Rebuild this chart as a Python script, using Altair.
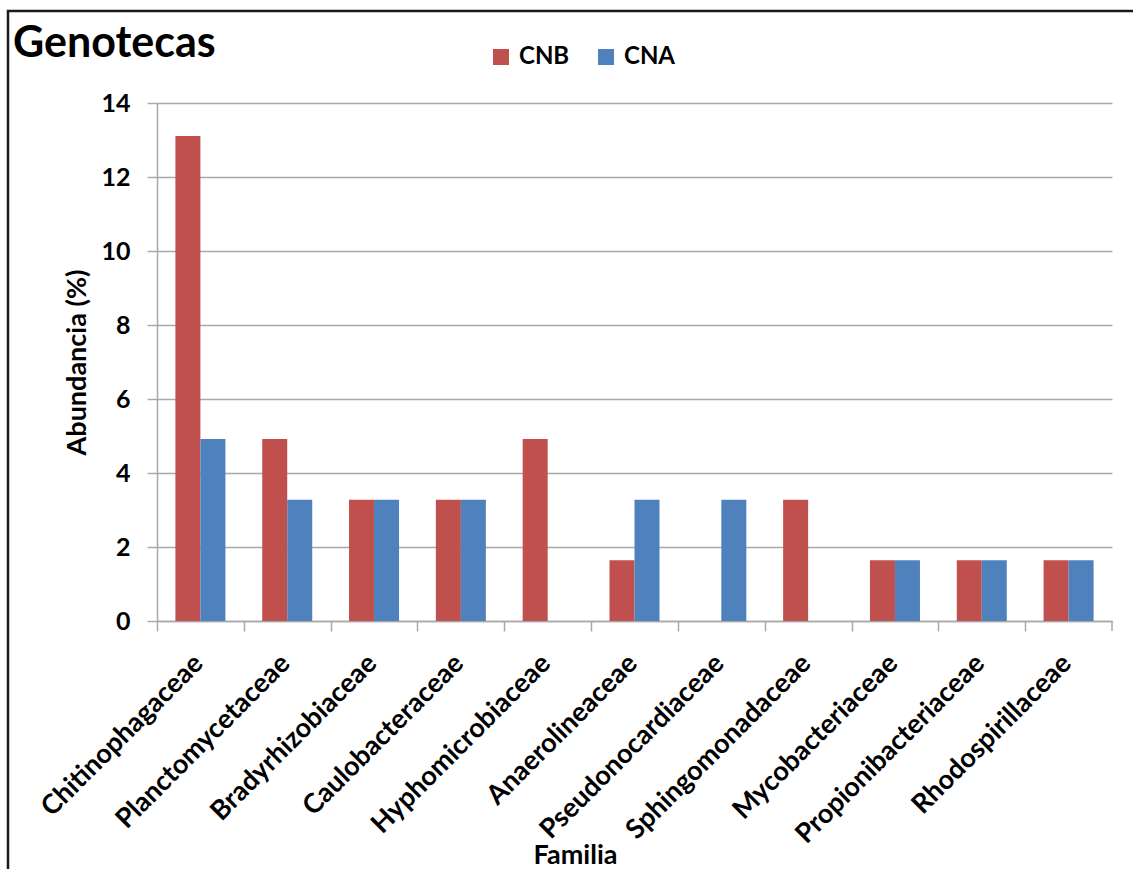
import altair as alt
import pandas as pd

# Families (x categories) and abundance (%) for each library
familias = [
    "Chitinophagaceae", "Planctomycetaceae", "Bradyrhizobiaceae", "Caulobacteraceae",
    "Hyphomicrobiaceae", "Anaerolineaceae", "Pseudonocardiaceae", "Sphingomonadaceae",
    "Mycobacteriaceae", "Propionibacteriaceae", "Rhodospirillaceae",
]
cnb = [13.11, 4.92, 3.28, 3.28, 4.92, 1.64, 0.0, 3.28, 1.64, 1.64, 1.64]
cna = [4.92, 3.28, 3.28, 3.28, 0.0, 3.28, 3.28, 0.0, 1.64, 1.64, 1.64]
series = ["CNB", "CNA"]
colors = ["#C0504D", "#4F81BD"]
y_ticks = [0, 2, 4, 6, 8, 10, 12, 14]

rows = []
for f, a, b in zip(familias, cnb, cna):
    rows.append({"Familia": f, "Serie": "CNB", "Abundancia": a})
    rows.append({"Familia": f, "Serie": "CNA", "Abundancia": b})
df = pd.DataFrame(rows)

FONT = "Lato"
GRAY = "#A9A9A9"
W, H = 955, 518
STEP = W / len(familias)

bars = alt.Chart(df).mark_bar().encode(
    x=alt.X(
        "Familia:N",
        sort=familias,
        scale=alt.Scale(paddingInner=0.424, paddingOuter=0.212),
        axis=alt.Axis(
            title="Familia",
            labelAngle=-45,
            labelAlign="right",
            labelBaseline="middle",
            tickOffset=-STEP / 2,
            labelOffset=STEP / 2 - 2,
            labelPadding=28,
            labelOverlap=False,
            labelLimit=0,
            labelFontSize=27,
            tickSize=10,
            grid=False,
            titleX=418,
            titleY=242,
            titleAlign="center",
            titleBaseline="alphabetic",
            titleFontSize=27,
        ),
    ),
    xOffset=alt.XOffset("Serie:N", sort=series,
                        scale=alt.Scale(paddingInner=0, paddingOuter=0)),
    y=alt.Y(
        "Abundancia:Q",
        scale=alt.Scale(domain=[0, 14], nice=False),
        axis=alt.Axis(
            title="Abundancia (%)",
            values=y_ticks,
            tickSize=10,
            labelPadding=17,
            labelFontSize=25,
            grid=True,
            titleX=-80,
            titleY=H / 2,
            titleAngle=-90,
            titleAlign="center",
            titleBaseline="middle",
            titleFontSize=27,
        ),
    ),
    color=alt.Color(
        "Serie:N",
        sort=series,
        scale=alt.Scale(domain=series, range=colors),
        legend=alt.Legend(
            title=None,
            orient="none",
            legendX=332,
            legendY=-58,
            direction="horizontal",
            symbolType="square",
            symbolSize=256,
            symbolStrokeWidth=0,
            labelFontSize=24,
            labelFont=FONT,
            labelFontWeight="bold",
            labelColor="black",
            labelOffset=6,
            columnPadding=24,
        ),
    ),
)

# closing tick at the right end of the category axis
end_tick = alt.Chart(pd.DataFrame({"k": [0]})).mark_rule(color=GRAY, strokeWidth=1.5).encode(
    x=alt.value(W), y=alt.value(H), y2=alt.value(H + 10)
)

# chart title
title = alt.Chart(pd.DataFrame({"t": ["Genotecas"]})).mark_text(
    font=FONT, fontSize=43, fontWeight="bold", align="left", baseline="alphabetic", color="black"
).encode(x=alt.value(-144), y=alt.value(-46), text="t:N")

# frame around the chart
frame = alt.Chart(pd.DataFrame({"k": [0]})).mark_rect(
    fill=None, stroke="#1a1a1a", strokeWidth=2.5
).encode(x=alt.value(-149), x2=alt.value(1000), y=alt.value(-92), y2=alt.value(800))

chart = alt.layer(frame, bars, end_tick, title).properties(
    width=W,
    height=H,
    autosize=alt.AutoSizeParams(type="none"),
    padding={"left": 157, "top": 103, "right": 21, "bottom": 248},
    background="white",
).configure_view(stroke=None).configure_axis(
    labelFont=FONT,
    labelFontWeight="bold",
    labelColor="black",
    titleFont=FONT,
    titleFontWeight="bold",
    titleColor="black",
    domainColor=GRAY,
    domainWidth=1.5,
    tickColor=GRAY,
    tickWidth=1.5,
    gridColor=GRAY,
    gridWidth=1.5,
)

chart.save("out.html", embed_options={"renderer": "svg", "actions": False})
